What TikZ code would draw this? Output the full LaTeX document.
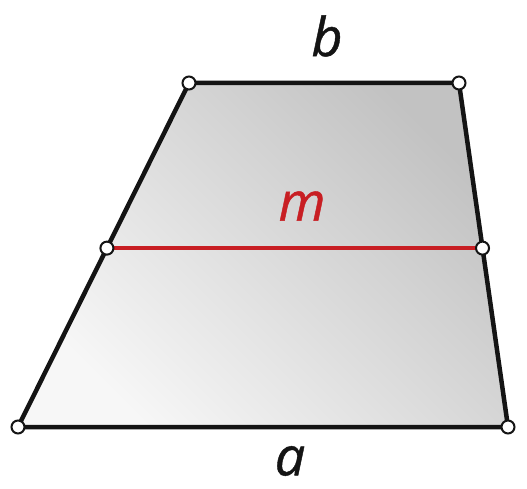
\documentclass[tikz,border=0pt]{standalone}
\usepackage{fontspec}
\setmainfont{Open Sans}
\newfontfamily\lblfont{Open Sans}[ItalicFeatures={FakeBold=0.8}]
\usetikzlibrary{calc}
\definecolor{edge}{RGB}{20,20,20}
\definecolor{midred}{RGB}{200,30,35}
\tikzset{
  side/.style={draw=edge,line width=4.5bp},
  median/.style={draw=midred,line width=4.5bp},
  vertex/.style={circle,draw=edge,fill=white,line width=2bp,inner sep=0pt,minimum size=13bp},
  lbl/.style={font=\lblfont\fontsize{54}{56}\selectfont\itshape,text=#1,inner sep=0pt},
  lbl/.default=edge,
}
\begin{document}
\begin{tikzpicture}[x=1bp,y=-1bp]
  \useasboundingbox (0,0) rectangle (527,489);
  % corners
  \coordinate (A) at (18,427);
  \coordinate (B) at (508,427);
  \coordinate (C) at (459,83);
  \coordinate (D) at (189,83);
  \coordinate (ML) at ($(A)!0.52!(D)$);
  \coordinate (MR) at ($(B)!0.52!(C)$);
  % body
  \shade[top color=gray!48,bottom color=gray!6,shading angle=-45] (A) -- (B) -- (C) -- (D) -- cycle;
  \draw[side,line join=round] (A) -- (B) -- (C) -- (D) -- cycle;
  \draw[median] (ML) -- (MR);
  \foreach \p in {A,B,C,D,ML,MR} \node[vertex] (v\p) at (\p) {};
  % labels
  \node[lbl] (la) at (290,461) {a};
  \node[lbl] (lb) at (327,36) {b};
  \node[lbl=midred] (lm) at (302,206) {m};
\end{tikzpicture}
\end{document}
